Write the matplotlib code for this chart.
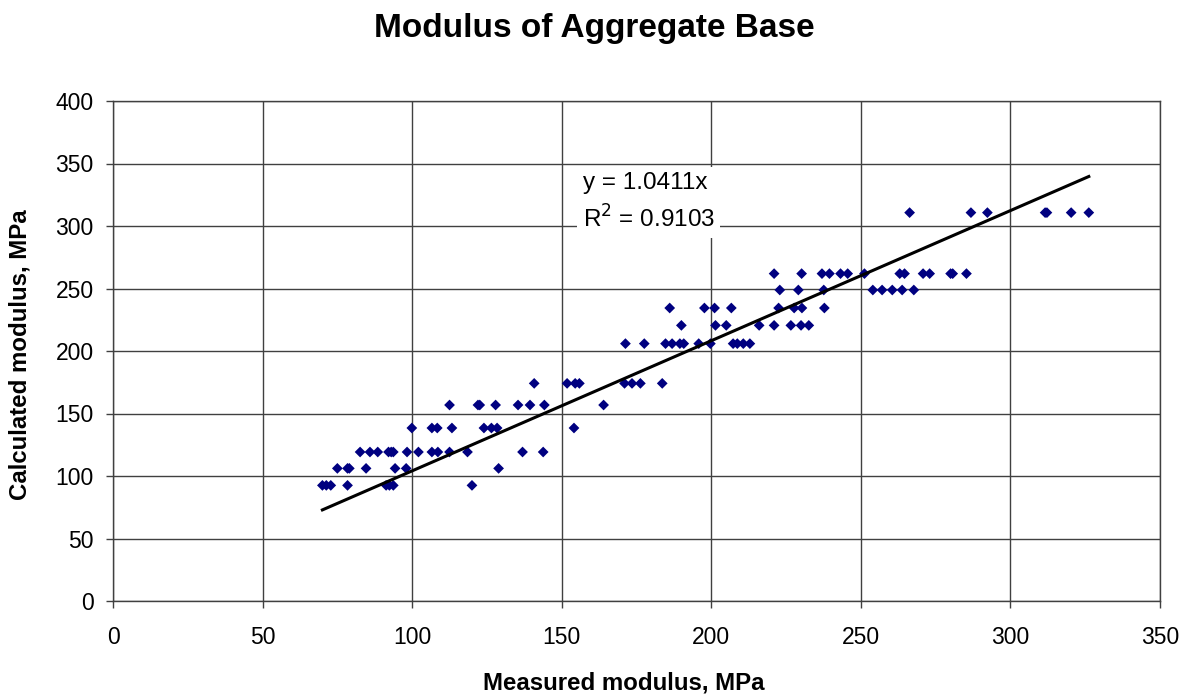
import matplotlib
matplotlib.use("Agg")
import matplotlib.pyplot as plt
from matplotlib import font_manager as fm
import numpy as np

plt.rcParams['font.family'] = ['Liberation Sans', 'DejaVu Sans']

def find_font(name):
    for f in fm.findSystemFonts():
        if f.endswith(name):
            return fm.FontProperties(fname=f)
    return fm.FontProperties(family='Liberation Sans', weight='bold')

bold_fp = find_font('LiberationSans-Bold.ttf')

measured = [
    # ~92
    70.0, 71.3, 72.8, 78.4, 91.3, 92.4, 93.7, 120.0,
    # ~106
    75.0, 78.4, 79.0, 84.6, 94.3, 98.0, 128.9,
    # ~119
    82.6, 85.9, 88.5, 92.1, 93.0, 93.7, 98.3, 102.1, 106.6, 108.6, 112.5, 118.5, 136.9, 143.8,
    # ~138
    99.9, 106.6, 108.4, 113.3, 124.0, 126.5, 128.4, 154.1,
    # ~157
    112.5, 122.0, 122.6, 127.9, 135.4, 139.4, 144.2, 164.0,
    # ~174
    140.8, 151.8, 154.5, 155.9, 171.0, 173.5, 176.3, 183.6,
    # ~206
    171.3, 177.6, 184.7, 186.9, 189.5, 190.8, 195.8, 199.7, 207.3, 208.7, 210.7, 212.9,
    # ~220
    190.0, 201.4, 205.0, 216.0, 221.0, 226.6, 230.0, 232.6,
    # ~234
    186.1, 197.7, 201.1, 206.7, 222.5, 227.7, 230.3, 237.8,
    # ~249
    222.9, 229.1, 237.6, 254.0, 257.1, 260.5, 263.8, 267.7,
    # ~262
    221.0, 230.2, 237.0, 239.5, 243.2, 245.6, 251.2, 263.0, 264.6, 270.8, 273.0, 280.0, 280.7, 285.3,
    # ~311
    266.3, 286.8, 292.3, 311.6, 312.2, 320.3, 326.2,
]
calculated = (
    [92.5] * 8 + [106.1] * 7 + [119.2] * 14 + [138.4] * 8 + [156.8] * 8 +
    [174.1] * 8 + [205.9] * 12 + [220.5] * 8 + [234.4] * 8 + [248.8] * 8 +
    [261.9] * 14 + [310.7] * 7
)

slope = 1.0411
r2 = 0.9103
x_ticks = [0, 50, 100, 150, 200, 250, 300, 350]
y_ticks = [0, 50, 100, 150, 200, 250, 300, 350, 400]

fig = plt.figure(figsize=(11.88, 6.98), dpi=100)
ax = fig.add_axes([113 / 1188, 1 - 601 / 698, (1160 - 113) / 1188, 500 / 698])

ax.scatter(measured, calculated, marker='D', s=30, color='#000080',
           edgecolors='none', zorder=3)

xl = np.array([min(measured), max(measured)])
ax.plot(xl, slope * xl, color='black', lw=2.2, zorder=4)

ax.set_xlim(0, 350)
ax.set_ylim(0, 400)
ax.set_xticks(x_ticks)
ax.set_yticks(y_ticks)
ax.grid(True, color='#404040', lw=1.0)
ax.set_axisbelow(True)
for s in ax.spines.values():
    s.set_color('#404040')
    s.set_linewidth(1.0)
ax.tick_params(direction='out', length=5, width=1, color='#404040',
               labelsize=16.5)
ax.tick_params(axis='x', pad=13)
ax.tick_params(axis='y', pad=9)

ax.text(157, 319, f"y = {slope}x\nR$^2$ = {r2}", fontsize=17.5,
        ha='left', va='center', linespacing=1.5,
        bbox=dict(facecolor='white', edgecolor='none', pad=4), zorder=5)

fp_title = bold_fp.copy()
fp_title.set_size(24)
fp_lab = bold_fp.copy()
fp_lab.set_size(17.3)
fig.text(594 / 1188, 1 - 28 / 698, "Modulus of Aggregate Base",
         ha='center', va='center', fontproperties=fp_title)
fig.text(624 / 1188, 1 - 683 / 698, "Measured modulus, MPa",
         ha='center', va='center', fontproperties=fp_lab)
fig.text(20 / 1188, 1 - 355 / 698, "Calculated modulus, MPa",
         ha='center', va='center', rotation=90, fontproperties=fp_lab)

fig.savefig("out.png", dpi=100)
